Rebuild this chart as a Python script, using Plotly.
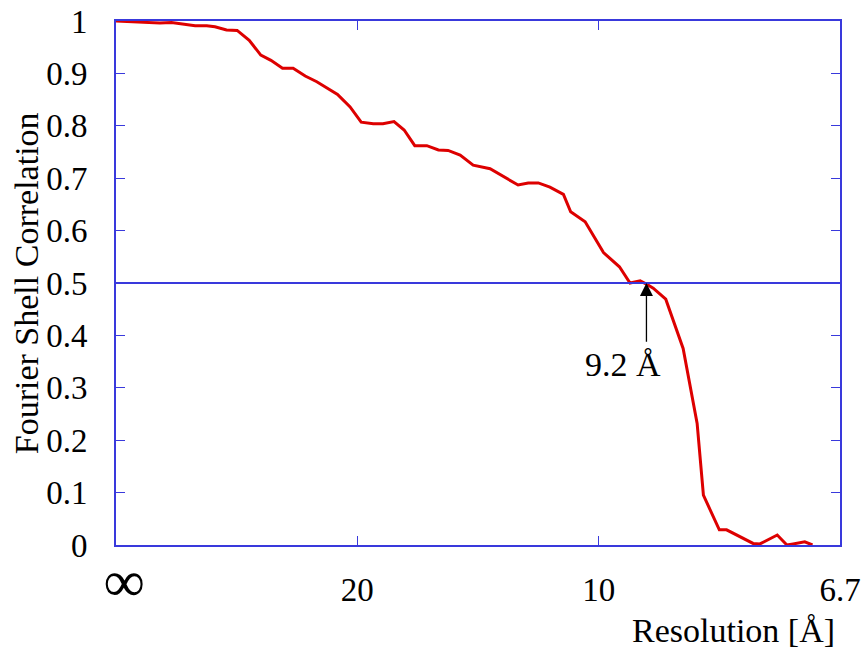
import plotly.graph_objects as go

# spatial frequency (1/Å) and FSC values
freq = [0.0, 0.0091, 0.0115, 0.0164, 0.0188, 0.0205, 0.0229, 0.0251, 0.0276, 0.0300,
        0.0321, 0.0345, 0.0367, 0.0392, 0.0416, 0.0437, 0.0459, 0.0485, 0.0508, 0.0533,
        0.0553, 0.0576, 0.0597, 0.0619, 0.0644, 0.0668, 0.0688, 0.0713, 0.0740, 0.0775,
        0.0806, 0.0833, 0.0854, 0.0875, 0.0899, 0.0927, 0.0942, 0.0972, 0.1010, 0.1043,
        0.1065, 0.1086, 0.1099, 0.1113, 0.1139, 0.1175, 0.1204, 0.1217, 0.1250, 0.1265,
        0.1320, 0.1334, 0.1370, 0.1390, 0.1403, 0.1427, 0.1443]
fsc = [1.000, 0.996, 0.997, 0.991, 0.991, 0.989, 0.983, 0.982, 0.963, 0.935,
       0.925, 0.910, 0.910, 0.895, 0.884, 0.872, 0.860, 0.836, 0.807, 0.804,
       0.804, 0.808, 0.792, 0.762, 0.762, 0.754, 0.753, 0.744, 0.725, 0.718,
       0.701, 0.687, 0.691, 0.691, 0.683, 0.669, 0.636, 0.617, 0.558, 0.531,
       0.500, 0.504, 0.498, 0.490, 0.469, 0.375, 0.232, 0.095, 0.029, 0.029,
       0.003, 0.002, 0.019, 0.000, 0.002, 0.006, 0.000]

x_tickvals = [0.0, 0.05, 0.10, 0.15]
x_ticktext = ['\u2002<span style="font-size:58px">∞</span>', "20", "10", "6.7"]
threshold = 0.5
cross_freq = 0.1099
cross_label = "9.2 Å"

BLUE = "#3939dc"
RED = "#dd0000"
FONT = "Liberation Serif, Times New Roman, serif"
FS = 33
TFS = 34

fig = go.Figure()
fig.add_trace(go.Scatter(x=freq, y=fsc, mode="lines",
                         line=dict(color=RED, width=3), showlegend=False))

fig.add_shape(type="line", xref="paper", x0=0, x1=1, yref="y", y0=threshold, y1=threshold,
              line=dict(color=BLUE, width=2))

# arrow
fig.add_annotation(x=cross_freq, y=threshold, xref="x", yref="y",
                   axref="x", ayref="y", ax=cross_freq, ay=0.385,
                   text="", showarrow=True, arrowhead=2, arrowsize=2.0,
                   arrowwidth=1.3, arrowcolor="black", standoff=0, startstandoff=0)
# label
fig.add_annotation(x=0.1050, y=0.345, xref="x", yref="y", text=cross_label,
                   showarrow=False, font=dict(family=FONT, size=TFS, color="black"),
                   xanchor="center", yanchor="middle")

# axis titles
fig.add_annotation(x=0.996, y=-0.163, xref="paper", yref="paper", text="Resolution [Å]",
                   showarrow=False, font=dict(family=FONT, size=TFS, color="black"),
                   xanchor="right", yanchor="middle")
fig.add_annotation(x=-0.124, y=0.5, xref="paper", yref="paper", text="Fourier Shell Correlation",
                   textangle=-90, showarrow=False, font=dict(family=FONT, size=TFS, color="black"),
                   xanchor="center", yanchor="middle")

fig.update_layout(
    width=867, height=652,
    margin=dict(l=116, r=27, t=21, b=107, pad=0),
    paper_bgcolor="white", plot_bgcolor="white",
    font=dict(family=FONT, size=FS, color="black"),
    xaxis=dict(range=[0, 0.15], tickvals=x_tickvals, ticktext=x_ticktext,
               showline=True, mirror="ticks", linecolor=BLUE, linewidth=1.8,
               ticks="inside", ticklen=9, tickcolor=BLUE, tickwidth=1,
               showgrid=False, zeroline=False, ticklabelstandoff=14, automargin=False,
               tickfont=dict(family=FONT, size=FS, color="black")),
    yaxis=dict(range=[0, 1], dtick=0.1, tick0=0,
               showline=True, mirror="ticks", linecolor=BLUE, linewidth=1.8,
               ticks="inside", ticklen=9, tickcolor=BLUE, tickwidth=1,
               showgrid=False, zeroline=False, ticklabelstandoff=20, automargin=False,
               tickfont=dict(family=FONT, size=FS, color="black")),
)

fig.write_html("out.html")
